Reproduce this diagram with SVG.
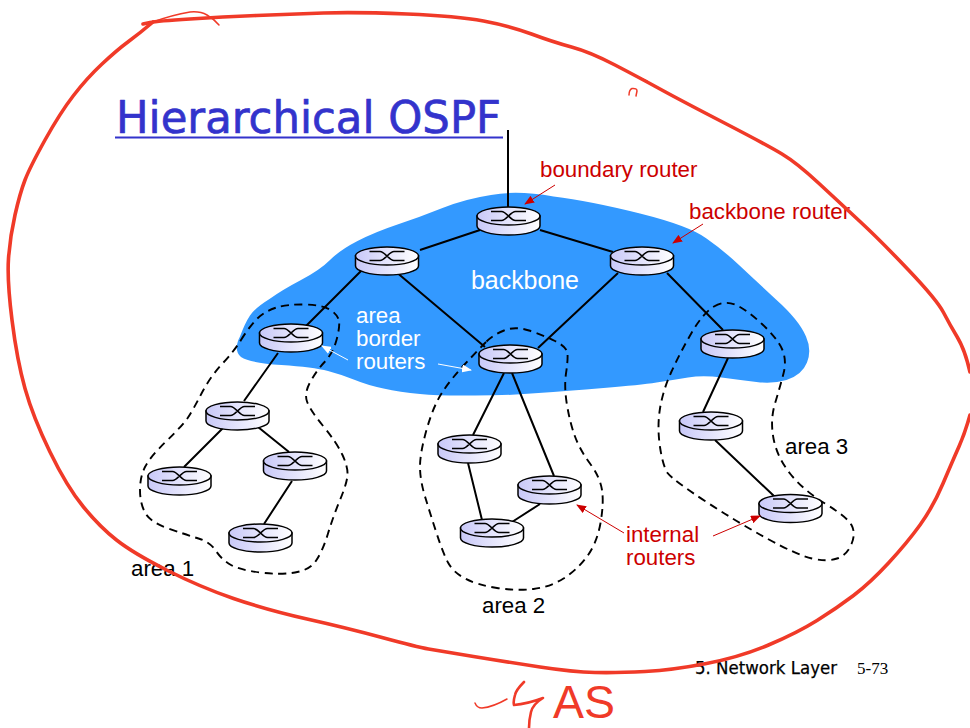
<svg xmlns="http://www.w3.org/2000/svg" width="970" height="728" viewBox="0 0 970 728">
<style>
text{font-family:"Liberation Sans",Arial,sans-serif;font-size:22.3px}
.wh{fill:#fff}.rd{fill:#cc0000}.bk{fill:#000}
.link{stroke:#000;stroke-width:2;fill:none}
.dash{stroke:#000;stroke-width:1.9;fill:none;stroke-dasharray:8 5.500}
.ink{stroke:#f03a28;fill:none;stroke-width:3.600;stroke-linecap:round;stroke-linejoin:round}
.thin{stroke-width:1.5}
.mid{stroke-width:2.6}
.top{fill:url(#g);stroke:#000;stroke-width:1.5}
.side{fill:url(#g);stroke:#000;stroke-width:1.5}
.x{fill:none;stroke:#000;stroke-width:1.7}
.ra{stroke:#cc0000;stroke-width:1;fill:none;marker-end:url(#mr)}
.wa{stroke:#fff;stroke-width:1;fill:none;marker-end:url(#mw)}
</style>
<defs>
<linearGradient id="g" x1="0" x2="1" y1="0" y2="0"><stop offset="0" stop-color="#c8c8f8"/><stop offset="0.5" stop-color="#e4e4fc"/><stop offset="1" stop-color="#ffffff"/></linearGradient>
<marker id="mr" markerUnits="userSpaceOnUse" markerWidth="10" markerHeight="8" refX="9" refY="4" orient="auto"><path d="M0 0L10 4L0 8z" fill="#cc0000"/></marker>
<marker id="mw" markerUnits="userSpaceOnUse" markerWidth="10" markerHeight="8" refX="9" refY="4" orient="auto"><path d="M0 0L10 4L0 8z" fill="#fff"/></marker>
<g id="router">
<path class="side" d="M-31.500 0V10A31.500 9 0 0 0 31.500 10V0z"/>
<ellipse class="top" cx="0" cy="0" rx="31.500" ry="9"/>
<path class="x" d="M-17.500 -4.500H-7C-2 -4.500 2 4.500 7 4.500H17.500M-17.500 4.500H-7C-2 4.500 2 -4.500 7 -4.500H17.500"/>
</g>
</defs>
<rect width="970" height="728" fill="#fff"/>
<path id="backbone-area" fill="#3399ff" d="M240 336.500Q245 323 250 315.500Q255 308 269.500 299Q282 290 301 280Q320 270 330 260Q340 250 357.500 241Q375 232 397.500 224.500Q420 217 442.500 208Q465 199 491 195Q517 190 553.500 196.500Q590 201 640 213.500Q690 226 706.500 238.500Q723 250 739 265Q755 280 776 299.500Q799 320 806 336.500Q812 350 807 362.500Q802 375 786.500 380Q773 384 756.500 382Q740 380 721.500 377.500Q703 375 688 377.500Q673 380 656.500 382.500Q640 385 603.500 388Q567 391 538.500 393Q510 395.500 475 395.500Q440 396 420 394Q400 392 383.500 388.500Q367 385 355 380Q343 375 328 371Q313 367 281.500 365Q250 363 241 357Q233 350 240 336.500z"/>
<g id="connectors">
<path class="link" d="M508 130V208M420 250L480 230M540 230L613 252M362 270L300 332M278 353L244 401M223 428L184 467M258 427L289 452M292 481L264 524M395 271L485 347M618 273L538 348M667 273L723 330M504 373L473 435M512 373L554 476M468 463L482 520M540 504L512 522M728 358L703 412M715 440L774 496"/>
</g>
<g id="area-outlines">
<path class="dash" d="M241 340Q247 330 255 321Q263 312 275 308Q287 304 305 304.500Q323 305 330.500 310Q338 315 339 321Q340 327 336.500 340Q333 353 325 361.500Q317 370 310.500 381.500Q304 393 307 401.500Q310 410 323.500 426.500Q337 443 342.500 455Q348 467 347.500 475Q347 483 340 500Q333 517 328 533.500Q323 550 316.500 560Q310 570 295 572.500Q280 575 260 572.500Q240 570 231 565Q222 560 216 551Q210 542 198.500 538.500Q187 535 168.500 528.500Q150 522 145 512.500Q140 503 140 490Q140 477 145 467Q150 457 166.500 441Q183 425 188 417.500Q193 410 201.500 393.500Q210 377 222.500 363.500Q235 350 241 340z"/>
<path class="dash" d="M486.500 341.500Q493 335 504 330.500Q515 326 529 330.500Q543 335 555 341Q567 347 567.500 353.500Q568 360 566 373.500Q564 387 567 405Q570 423 575 436.500Q580 450 590 463.500Q600 477 602 490Q604 503 600.500 523Q597 543 587 556.500Q577 570 563.500 578.500Q550 587 533.500 589Q517 591 497 588Q477 585 465 578.500Q453 572 448 562.500Q443 553 436.500 533Q430 513 425 496.500Q420 480 420 466.500Q420 453 426.500 430Q433 407 441.500 393.500Q450 380 465 364Q480 348 486.500 341.500z"/>
<path class="dash" d="M714 306.500Q725 300 736 305Q747 310 762 324Q777 338 782 349Q787 360 783.500 373.500Q780 387 775 403.500Q770 420 773.500 438.500Q777 457 790 473.500Q803 490 825 503.500Q847 517 851.500 525Q856 533 851.500 544Q847 555 837 558.500Q827 562 812 558.500Q797 555 767 538.500Q737 522 705 501Q673 480 668 473.500Q663 467 660 447Q657 427 660 408.500Q663 390 671.500 371.500Q680 353 691.500 333Q703 313 714 306.500z"/>
</g>
<g id="r1"><use href="#router" x="508.500" y="216"/></g>
<g id="r2"><use href="#router" x="387" y="256"/></g>
<g id="r3"><use href="#router" x="642" y="256"/></g>
<g id="r4"><use href="#router" x="291" y="333"/></g>
<g id="r5"><use href="#router" x="510.500" y="354"/></g>
<g id="r6"><use href="#router" x="732.500" y="339"/></g>
<g id="r7"><use href="#router" x="237.500" y="411"/></g>
<g id="r8"><use href="#router" x="179.500" y="476"/></g>
<g id="r9"><use href="#router" x="295" y="461"/></g>
<g id="r10"><use href="#router" x="260.500" y="533"/></g>
<g id="r11"><use href="#router" x="469.500" y="444"/></g>
<g id="r12"><use href="#router" x="549.500" y="485"/></g>
<g id="r13"><use href="#router" x="492" y="528"/></g>
<g id="r14"><use href="#router" x="711" y="421"/></g>
<g id="r15"><use href="#router" x="790.500" y="503.500"/></g>
<g id="annotation-arrows">
<path class="ra" d="M555 185L525 204"/>
<path class="ra" d="M703 224L673 243"/>
<path class="ra" d="M624 533L577 505"/>
<path class="ra" d="M713 536L760 516"/>
<path class="wa" d="M348 360L322 346"/>
<path class="wa" d="M438 364L471 370"/>
</g>
<g id="labels">
<text x="116" y="133" style="font-family:'DejaVu Sans',sans-serif;font-size:45px;stroke:#3333cc;stroke-width:.7;stroke-linejoin:round" fill="#3333cc" textLength="385" lengthAdjust="spacingAndGlyphs">Hierarchical OSPF</text>
<path d="M115 137.500H503" stroke="#3333cc" stroke-width="2"/>
<text class="rd" x="540" y="177">boundary router</text>
<text class="rd" x="689" y="219">backbone router</text>
<text class="wh" x="471" y="289" style="font-size:25px" textLength="108">backbone</text>
<text class="wh" x="356" y="323">area</text>
<text class="wh" x="356" y="346">border</text>
<text class="wh" x="356" y="369">routers</text>
<text class="bk" x="785" y="454">area 3</text>
<text class="bk" x="131" y="576">area 1</text>
<text class="bk" x="482" y="613">area 2</text>
<text class="rd" x="626" y="542">internal</text>
<text class="rd" x="626" y="565">routers</text>
<text x="695" y="674" style="font-family:'DejaVu Sans',sans-serif;font-size:17px;stroke:#000;stroke-width:.25" fill="#000" textLength="142" lengthAdjust="spacingAndGlyphs">5. Network Layer</text>
<text x="857" y="674" style="font-family:'Liberation Serif',serif;font-size:17px" fill="#000">5-73</text>
</g>
<g id="ink">
<path class="ink" d="M143 24L150 22.500Q157 21 190 19Q223 17 256.500 15.500Q290 14 323.500 13Q357 12 407 14Q457 16 483.500 21Q510 26 531.500 34Q553 42 571.500 47Q590 52 615 65Q640 78 660 89Q680 100 723.500 122.500Q767 145 782 154Q797 163 818.500 183Q840 203 860 221.500Q880 240 908.500 270Q937 300 943.500 312.500Q950 325 957.500 337.500Q965 350 970 372"/>
<path class="ink" d="M970 415Q965 433 959 446.500Q953 460 943 483.500Q933 507 920 525Q907 543 888.500 563Q870 583 853.500 595.500Q837 608 817 620.500Q797 633 768.500 645Q740 657 706.500 663.500Q673 670 645 671.500Q617 673 595 672.500Q573 672 540 667Q507 662 473.500 656.500Q440 651 428.500 649Q417 647 382 637.500Q347 628 307 619Q267 610 233.500 598.500Q200 587 166.500 570Q133 553 116.500 540Q100 527 83.500 507Q67 487 50 452Q33 417 25 388.500Q17 360 12 320Q7 280 8.500 258.500Q10 237 15 215Q20 193 25 180Q30 167 45 140Q60 113 73.500 95.500Q87 78 102 64Q117 50 128.500 41.500Q140 33 153 22"/>
<path class="ink thin" d="M153 22Q172 15 190 12Q200 11 207 15Q214 19 219 25"/>
<path class="ink thin" d="M629 95Q629 90 632 88.500Q637 88 637 91L636 96"/>
<path class="ink thin" d="M640 78L647 81"/>
<path class="ink thin" d="M475 703Q477 708 482 708Q493 707 507 699"/>
<path class="ink mid" d="M524 682Q516 690 515 695Q513 702 514 705Q527 704 543 698Q533 704 531 712Q529 720 529 728"/>
<text x="553" y="718" style="font-size:46px" fill="#f03a28" textLength="62" lengthAdjust="spacingAndGlyphs">AS</text>
</g>
</svg>
